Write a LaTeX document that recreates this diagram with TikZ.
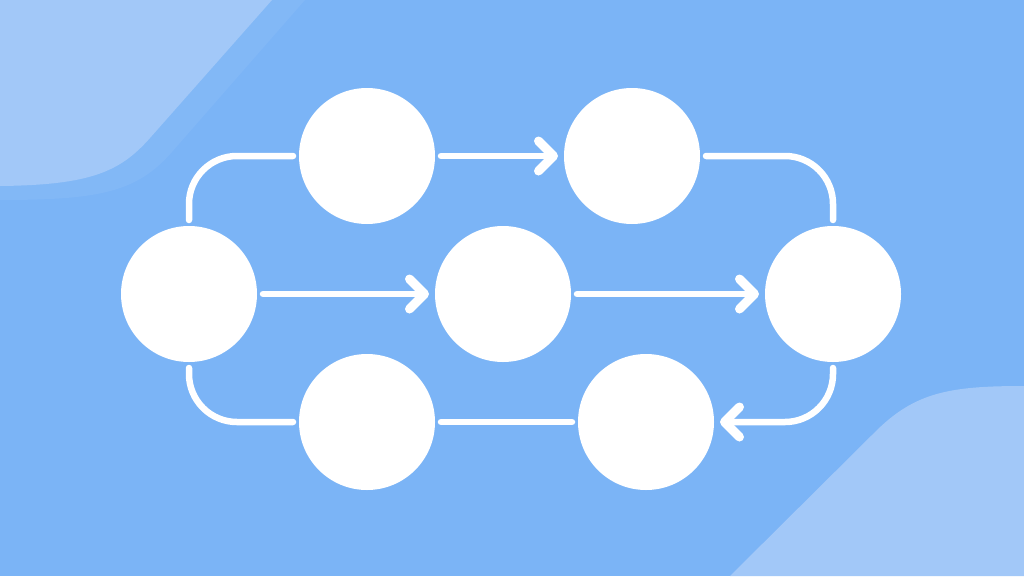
\documentclass[tikz,border=0pt]{standalone}
\usetikzlibrary{arrows.meta}
\definecolor{bgblue}{HTML}{7BB4F6}
\definecolor{lightblue}{HTML}{A2C8F8}
\definecolor{midblue}{HTML}{82B8F6}
\begin{document}
\begin{tikzpicture}[x=1pt,y=-1pt,
  bubble/.style={circle,fill=white,minimum size=136pt,inner sep=0pt,outer sep=6pt},
  conn/.style={draw=white,line width=6.5pt,line cap=round,line join=round},
  arr/.style={conn,-{Straight Barb[length=15pt,width=30pt,line width=9pt,round]}}]
\fill[bgblue] (0,0) rectangle (1024,576);
\useasboundingbox (0,0) rectangle (1024,576);
% decorative corners
\fill[midblue] (0,0) -- (305,0) -- (172,152) .. controls (137,192) and (100,200) .. (0,200) -- cycle;
\fill[lightblue] (0,0) -- (272,0) -- (150,138) .. controls (120,172) and (90,185) .. (0,186) -- cycle;
\fill[lightblue] (730,576) -- (875,432) .. controls (915,392) and (950,386) .. (1024,386) -- (1024,576) -- cycle;
% nodes
\node[bubble] (A) at (189,294) {};
\node[bubble] (B) at (367,156) {};
\node[bubble] (C) at (632,156) {};
\node[bubble] (D) at (503,294) {};
\node[bubble] (E) at (833,294) {};
\node[bubble] (F) at (367,422) {};
\node[bubble] (G) at (646,422) {};
% connectors
\draw[conn,rounded corners=48pt] (A.north) |- (B.west);
\draw[arr] (B.east) -- (C.west);
\draw[conn,rounded corners=48pt] (C.east) -| (E.north);
\draw[arr] (A.east) -- (D.west);
\draw[arr] (D.east) -- (E.west);
\draw[arr,rounded corners=48pt] (E.south) |- (G.east);
\draw[conn] (G.west) -- (F.east);
\draw[conn,rounded corners=48pt] (F.west) -| (A.south);
\end{tikzpicture}
\end{document}
